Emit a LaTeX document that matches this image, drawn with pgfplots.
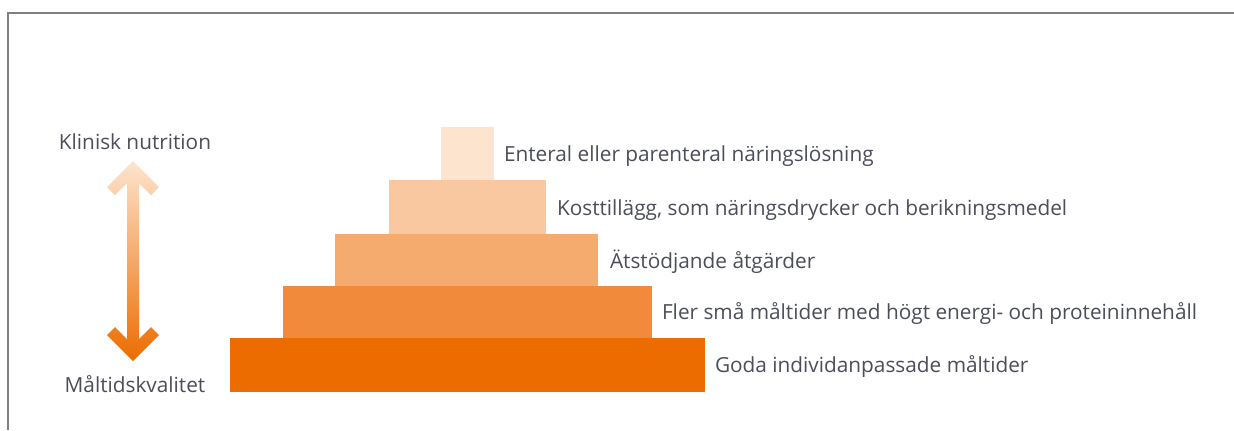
\documentclass[border=0pt]{standalone}
\usepackage{fontspec}
\setmainfont{Open Sans}
\usepackage{pgfplots}
\pgfplotsset{compat=1.18}
\definecolor{c1}{HTML}{EC6C00}
\definecolor{c2}{HTML}{F28A3C}
\definecolor{c3}{HTML}{F5AB6E}
\definecolor{c4}{HTML}{F9C8A0}
\definecolor{c5}{HTML}{FDE4CE}
\definecolor{txt}{HTML}{4B4D5A}
\definecolor{frame}{HTML}{808080}
\tikzset{lab/.style={font=\fontsize{10.4pt}{12pt}\selectfont, text=txt, inner sep=0pt, outer sep=0pt}}
\begin{document}
\begin{tikzpicture}
\begin{axis}[
  name=main,
  width=617pt, height=215pt, scale only axis,
  xmin=0, xmax=1234, ymin=0, ymax=430, y dir=reverse,
  hide axis, clip=false,
]
% frame
\draw[frame, line width=0.7pt] (axis cs:8,430) -- (axis cs:8,13) -- (axis cs:1234,13);
% pyramid levels (left, right, top, bottom in px)
\addplot[fill=c1, draw=none, no markers] coordinates {(230,338) (705,338) (705,392) (230,392)} -- cycle;
\addplot[fill=c2, draw=none, no markers] coordinates {(283,286) (652,286) (652,338) (283,338)} -- cycle;
\addplot[fill=c3, draw=none, no markers] coordinates {(335,234) (598,234) (598,286) (335,286)} -- cycle;
\addplot[fill=c4, draw=none, no markers] coordinates {(389,180) (546,180) (546,234) (389,234)} -- cycle;
\addplot[fill=c5, draw=none, no markers] coordinates {(441,127) (494,127) (494,180) (441,180)} -- cycle;
% arrow
\addplot[draw=none, no markers, top color=c5, bottom color=c1] coordinates {
 (133,161) (159,187) (151,195) (139,183) (139,339) (151,327) (159,335)
 (133,361) (107,335) (115,327) (127,339) (127,183) (115,195) (107,187)} -- cycle;
% labels
\node[lab, anchor=west] at (axis cs:504,156) {Enteral eller parenteral näringslösning};
\node[lab, anchor=west] at (axis cs:557,210) {Kosttillägg, som näringsdrycker och berikningsmedel};
\node[lab, anchor=west] at (axis cs:610,262) {Ätstödjande åtgärder};
\node[lab, anchor=west] at (axis cs:662,314) {Fler små måltider med högt energi- och proteininnehåll};
\node[lab, anchor=west] at (axis cs:715,367) {Goda individanpassade måltider};
\node[lab] at (axis cs:135,142) {Klinisk nutrition};
\node[lab] at (axis cs:135,384) {Måltidskvalitet};
\end{axis}
\pgfresetboundingbox
\useasboundingbox (main.south west) rectangle (main.north east);
\end{tikzpicture}
\end{document}
